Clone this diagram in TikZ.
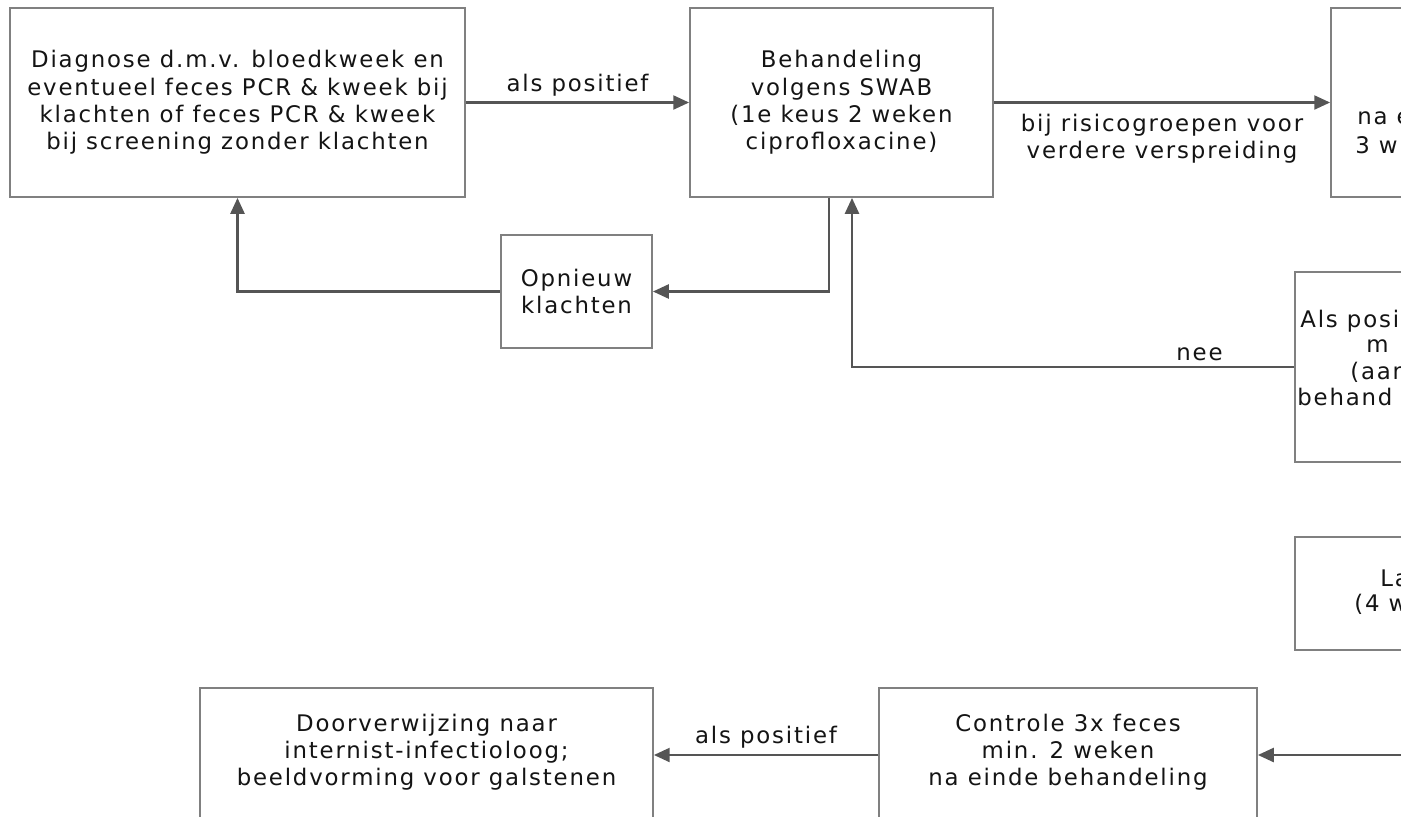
\documentclass[tikz,border=0pt]{standalone}
\usepackage{fontspec}
\setmainfont{DejaVu Sans}[LetterSpace=8]
\usetikzlibrary{arrows.meta,calc}
\definecolor{boxgray}{RGB}{128,128,128}
\definecolor{flowgray}{RGB}{85,85,85}
\definecolor{txt}{RGB}{20,20,20}

\begin{document}
\begin{tikzpicture}[
  x=0.02cm, y=-0.02cm,
  every node/.style={text=txt, font=\fontsize{13}{15.5}\selectfont},
  stap/.style={draw=boxgray, line width=1.1pt, fill=white, align=center,
    inner sep=0pt},
  flow/.style={draw=flowgray, line width=1.2pt,
    -{Triangle[length=9pt,width=8pt]}},
  lbl/.style={fill=white, inner sep=1pt, align=center}
]
\useasboundingbox (0,0) rectangle (1401,816);
\clip (0,0) rectangle (1401,816);

% Boxes
\node[stap, minimum width=9.1cm, minimum height=3.78cm] (diag) at (237.5,102.5)
  {Diagnose d.m.v. bloedkweek en\\eventueel feces PCR \& kweek bij\\
   klachten of feces PCR \& kweek\\bij screening zonder klachten};
\node[stap, minimum width=6.06cm, minimum height=3.78cm] (behand) at (841.5,102.5)
  {Behandeling\\volgens SWAB\\(1e keus 2 weken\\ciprofloxacine)};
\node[stap, minimum width=6cm, minimum height=3.78cm] (risico) at (1481,102.5) {};
\node[stap, minimum width=3.02cm, minimum height=2.26cm] (opnieuw) at (576.5,291.5)
  {Opnieuw\\klachten};
\node[stap, minimum width=6cm, minimum height=3.8cm] (positief) at (1445,367) {};
\node[stap, minimum width=6cm, minimum height=2.26cm] (lang) at (1445,593.5) {};
\node[stap, minimum width=9.06cm, minimum height=2.68cm] (verwijs) at (426.5,755) {};
\node[stap, minimum width=7.56cm, minimum height=2.68cm] (controle) at (1068,755) {};
\node[align=center] (verwijstekst) at (426.5,752)
  {Doorverwijzing naar\\internist-infectioloog;\\beeldvorming voor galstenen};
\node[align=center] (controletekst) at (1068,752)
  {Controle 3x feces\\min. 2 weken\\na einde behandeling};

% Text of the boxes cut off at the right edge
\node[anchor=west, inner sep=0pt] (risico1) at (1357,118) {na e};
\node[anchor=west, inner sep=0pt] (risico2) at (1355,145) {3 w};
\node[anchor=west, inner sep=0pt] (positief1) at (1300,321) {Als posit};
\node[anchor=west, inner sep=0pt] (positief2) at (1366,346) {m};
\node[anchor=west, inner sep=0pt] (positief3) at (1350,372) {(aan};
\node[anchor=west, inner sep=0pt] (positief4) at (1297,397) {behand};
\node[anchor=west, inner sep=0pt] (lang1) at (1380,578) {La};
\node[anchor=west, inner sep=0pt] (lang2) at (1354,604) {(4 w};

\coordinate (inkomend) at (1420,755);

% Connectors
\draw[flow] (diag) -- node[lbl, above=2pt] {als positief} (behand);
\draw[flow] (behand) -- node[lbl, below=5pt] {bij risicogroepen voor\\verdere verspreiding} (risico);
\draw[flow] ($(behand.south)+(-12.5,0)$) |- (opnieuw);
\draw[flow] (opnieuw) -| (diag);
\draw[flow] (positief.west) -| node[lbl, pos=0.107, above=2pt] {nee} ($(behand.south)+(10.5,0)$);
\draw[flow] (inkomend) -- (controle);
\draw[flow] (controle) -- node[lbl, above=2pt] {als positief} (verwijs);

\end{tikzpicture}
\end{document}
